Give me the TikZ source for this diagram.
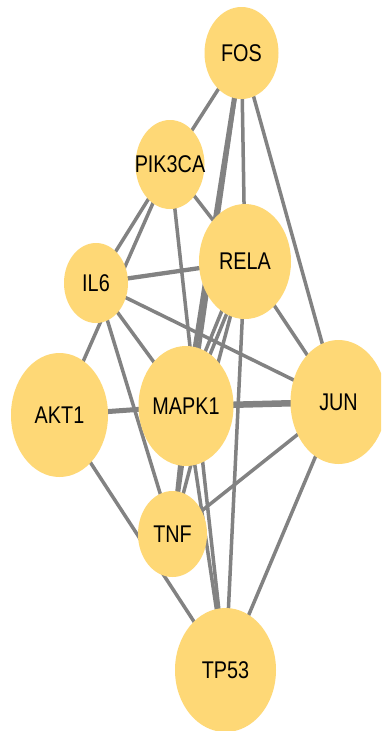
\documentclass[tikz,border=0pt]{standalone}
\usepackage{fontspec}
\setmainfont{Liberation Sans}
\usetikzlibrary{shapes.geometric,backgrounds}
\definecolor{nodefill}{RGB}{254,216,118}
\definecolor{edgegray}{RGB}{130,130,130}
\newcommand\genelabel[1]{\scalebox{1}[1.22]{#1}}
\begin{document}
\begin{tikzpicture}[x={(1pt,0)},y={(0,-1pt)},
  genetext/.style={font=\fontsize{19.8pt}{20pt}\selectfont, inner sep=0pt},
  gene/.style={ellipse, fill=nodefill, draw=none, inner sep=0pt,
    label={[genetext]center:\genelabel{#1}}},
  link/.style={draw=edgegray, line width=3.5pt},
  midlink/.style={draw=edgegray, line width=4.3pt},
  thicklink/.style={draw=edgegray, line width=5pt},
  heavylink/.style={draw=edgegray, line width=6.5pt}]
\useasboundingbox (0,0) rectangle (381,731);
\clip (0,0) rectangle (381,731);
% nodes
\node[gene=FOS, minimum width=74pt, minimum height=92pt] (FOS) at (241.5,53) {};
\node[gene=PIK3CA, minimum width=69pt, minimum height=89pt] (PIK3CA) at (170,164.5) {};
\node[gene=RELA, minimum width=92pt, minimum height=115pt] (RELA) at (245,261.5) {};
\node[gene=IL6, minimum width=64pt, minimum height=80pt] (IL6) at (96,283) {};
\node[gene=AKT1, minimum width=97pt, minimum height=124pt] (AKT1) at (59.5,415) {};
\node[gene=MAPK1, minimum width=95pt, minimum height=120pt] (MAPK1) at (186,406) {};
\node[gene=JUN, minimum width=96pt, minimum height=124pt] (JUN) at (338.5,402) {};
\node[gene=TNF, minimum width=69pt, minimum height=86pt] (TNF) at (172.5,534) {};
\node[gene=TP53, minimum width=101pt, minimum height=124pt] (TP53) at (225.5,670) {};
% edges behind the nodes
\begin{pgfonlayer}{background}
\fill[white] (0,0) rectangle (381,731);
\draw[link] (FOS.center) -- (PIK3CA.center);
\draw[link] (FOS.center) -- (RELA.center);
\draw[link] (FOS.center) -- (JUN.center);
\draw[thicklink] (FOS.center) -- (MAPK1.center);
\draw[link] (FOS.center) -- (TNF.center);
\draw[link] (PIK3CA.center) -- (RELA.center);
\draw[link] (PIK3CA.center) -- (IL6.center);
\draw[link] (PIK3CA.center) -- (AKT1.center);
\draw[link] (PIK3CA.center) -- (TP53.center);
\draw[midlink] (IL6.center) -- (RELA.center);
\draw[link] (IL6.center) -- (JUN.center);
\draw[link] (IL6.center) -- (MAPK1.center);
\draw[link] (IL6.center) -- (TNF.center);
\draw[link] (RELA.center) -- (JUN.center);
\draw[link] (RELA.center) -- (TP53.center);
\draw[link] ([xshift=-3pt]RELA.center) -- ([xshift=-3pt]MAPK1.center);
\draw[link] ([xshift=3pt]RELA.center) -- ([xshift=3pt]MAPK1.center);
\draw[link] (RELA.center) -- (TNF.center);
\draw[thicklink] (AKT1.center) -- (MAPK1.center);
\draw[link] (AKT1.center) -- (TP53.center);
\draw[heavylink] (MAPK1.center) -- (JUN.center);
\draw[link] (MAPK1.center) -- (TNF.center);
\draw[link] (MAPK1.center) -- (TP53.center);
\draw[link] (JUN.center) -- (TNF.center);
\draw[link] (JUN.center) -- (TP53.center);
\end{pgfonlayer}
\end{tikzpicture}
\end{document}
